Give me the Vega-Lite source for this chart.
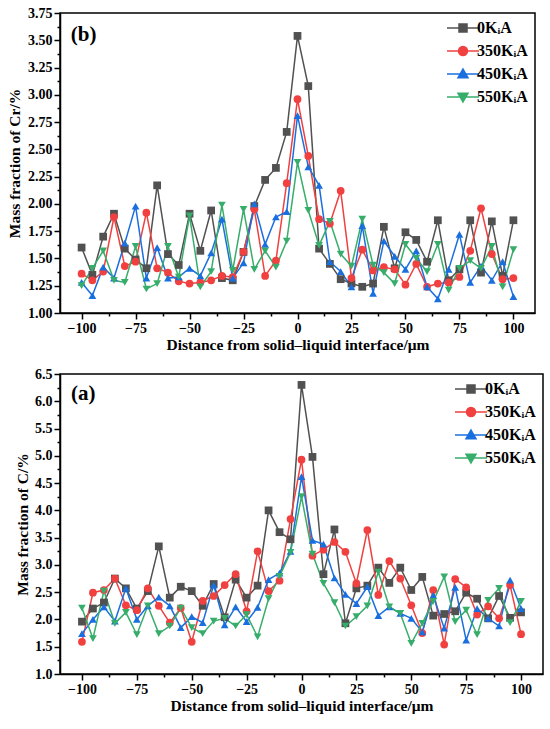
{
  "$schema": "https://vega.github.io/schema/vega-lite/v6.json",
  "description": "Mass fraction of Cr and C versus distance from the solid-liquid interface",
  "background": "white",
  "padding": {"left": 6, "top": 5, "right": 5, "bottom": 5},
  "spacing": 12,
  "align": "none",
  "config": {
    "font": "Liberation Serif",
    "view": {"stroke": "black", "strokeWidth": 1.5},
    "axis": {
      "grid": false,
      "domainColor": "black",
      "domainWidth": 1.5,
      "tickColor": "black",
      "tickWidth": 1.5,
      "labelFont": "Liberation Serif",
      "labelFontSize": 14,
      "labelFontWeight": "bold",
      "labelColor": "black",
      "labelPadding": 2,
      "titleFont": "Liberation Serif",
      "titleFontSize": 15.5,
      "titleFontWeight": "bold",
      "titleColor": "black"
    },
    "legend": {
      "orient": "top-right",
      "offset": 7,
      "padding": 0,
      "labelFont": "Liberation Serif",
      "labelFontSize": 16,
      "labelFontWeight": "bold",
      "labelColor": "black",
      "symbolSize": 100,
      "symbolStrokeWidth": 1.5,
      "symbolOffset": 14,
      "labelOffset": 6,
      "rowPadding": 7
    }
  },
  "datasets": {
    "cr": [
      {"x": -100, "0KᵢA": 1.60, "350KᵢA": 1.36, "450KᵢA": 1.28, "550KᵢA": 1.25},
      {"x": -95, "0KᵢA": 1.35, "350KᵢA": 1.30, "450KᵢA": 1.16, "550KᵢA": 1.41},
      {"x": -90, "0KᵢA": 1.70, "350KᵢA": 1.38, "450KᵢA": 1.42, "550KᵢA": 1.57},
      {"x": -85, "0KᵢA": 1.91, "350KᵢA": 1.88, "450KᵢA": 1.32, "550KᵢA": 1.30},
      {"x": -80, "0KᵢA": 1.59, "350KᵢA": 1.43, "450KᵢA": 1.64, "550KᵢA": 1.28},
      {"x": -75, "0KᵢA": 1.49, "350KᵢA": 1.47, "450KᵢA": 1.98, "550KᵢA": 1.61},
      {"x": -70, "0KᵢA": 1.41, "350KᵢA": 1.92, "450KᵢA": 1.32, "550KᵢA": 1.22},
      {"x": -65, "0KᵢA": 2.17, "350KᵢA": 1.41, "450KᵢA": 1.60, "550KᵢA": 1.27},
      {"x": -60, "0KᵢA": 1.54, "350KᵢA": 1.37, "450KᵢA": 1.32, "550KᵢA": 1.61},
      {"x": -55, "0KᵢA": 1.44, "350KᵢA": 1.29, "450KᵢA": 1.33, "550KᵢA": 1.33},
      {"x": -50, "0KᵢA": 1.91, "350KᵢA": 1.27, "450KᵢA": 1.41, "550KᵢA": 1.89},
      {"x": -45, "0KᵢA": 1.57, "350KᵢA": 1.28, "450KᵢA": 1.34, "550KᵢA": 1.24},
      {"x": -40, "0KᵢA": 1.94, "350KᵢA": 1.30, "450KᵢA": 1.55, "550KᵢA": 1.38},
      {"x": -35, "0KᵢA": 1.32, "350KᵢA": 1.34, "450KᵢA": 1.86, "550KᵢA": 1.99},
      {"x": -30, "0KᵢA": 1.30, "350KᵢA": 1.33, "450KᵢA": 1.32, "550KᵢA": 1.39},
      {"x": -25, "0KᵢA": 1.56, "350KᵢA": 1.56, "450KᵢA": 1.46, "550KᵢA": 1.95},
      {"x": -20, "0KᵢA": 1.98, "350KᵢA": 1.95, "450KᵢA": 2.00, "550KᵢA": 1.40},
      {"x": -15, "0KᵢA": 2.22, "350KᵢA": 1.34, "450KᵢA": 1.63, "550KᵢA": 1.57},
      {"x": -10, "0KᵢA": 2.33, "350KᵢA": 1.48, "450KᵢA": 1.88, "550KᵢA": 1.42},
      {"x": -5, "0KᵢA": 2.66, "350KᵢA": 2.19, "450KᵢA": 1.93, "550KᵢA": 1.66},
      {"x": 0, "0KᵢA": 3.54, "350KᵢA": 2.96, "450KᵢA": 2.81, "550KᵢA": 2.38},
      {"x": 5, "0KᵢA": 3.08, "350KᵢA": 2.44, "450KᵢA": 2.34, "550KᵢA": 1.94},
      {"x": 10, "0KᵢA": 1.59, "350KᵢA": 1.86, "450KᵢA": 2.17, "550KᵢA": 1.62},
      {"x": 15, "0KᵢA": 1.45, "350KᵢA": 1.82, "450KᵢA": 1.47, "550KᵢA": 1.84},
      {"x": 20, "0KᵢA": 1.31, "350KᵢA": 2.12, "450KᵢA": 1.38, "550KᵢA": 1.54},
      {"x": 25, "0KᵢA": 1.27, "350KᵢA": 1.32, "450KᵢA": 1.24, "550KᵢA": 1.43},
      {"x": 30, "0KᵢA": 1.24, "350KᵢA": 1.58, "450KᵢA": 1.80, "550KᵢA": 1.86},
      {"x": 35, "0KᵢA": 1.27, "350KᵢA": 1.39, "450KᵢA": 1.18, "550KᵢA": 1.44},
      {"x": 40, "0KᵢA": 1.79, "350KᵢA": 1.42, "450KᵢA": 1.66, "550KᵢA": 1.37},
      {"x": 45, "0KᵢA": 1.41, "350KᵢA": 1.40, "450KᵢA": 1.52, "550KᵢA": 1.27},
      {"x": 50, "0KᵢA": 1.74, "350KᵢA": 1.26, "450KᵢA": 1.40, "550KᵢA": 1.63},
      {"x": 55, "0KᵢA": 1.67, "350KᵢA": 1.45, "450KᵢA": 1.57, "550KᵢA": 1.50},
      {"x": 60, "0KᵢA": 1.47, "350KᵢA": 1.24, "450KᵢA": 1.24, "550KᵢA": 1.38},
      {"x": 65, "0KᵢA": 1.85, "350KᵢA": 1.27, "450KᵢA": 1.13, "550KᵢA": 1.63},
      {"x": 70, "0KᵢA": 1.30, "350KᵢA": 1.28, "450KᵢA": 1.40, "550KᵢA": 1.21},
      {"x": 75, "0KᵢA": 1.40, "350KᵢA": 1.33, "450KᵢA": 1.72, "550KᵢA": 1.41},
      {"x": 80, "0KᵢA": 1.85, "350KᵢA": 1.57, "450KᵢA": 1.28, "550KᵢA": 1.48},
      {"x": 85, "0KᵢA": 1.37, "350KᵢA": 1.96, "450KᵢA": 1.43, "550KᵢA": 1.41},
      {"x": 90, "0KᵢA": 1.84, "350KᵢA": 1.54, "450KᵢA": 1.30, "550KᵢA": 1.61},
      {"x": 95, "0KᵢA": 1.34, "350KᵢA": 1.31, "450KᵢA": 1.47, "550KᵢA": 1.24},
      {"x": 100, "0KᵢA": 1.85, "350KᵢA": 1.32, "450KᵢA": 1.15, "550KᵢA": 1.58}
    ],
    "c": [
      {"x": -100, "0KᵢA": 1.96, "350KᵢA": 1.59, "450KᵢA": 1.74, "550KᵢA": 2.21},
      {"x": -95, "0KᵢA": 2.20, "350KᵢA": 2.49, "450KᵢA": 2.00, "550KᵢA": 1.65},
      {"x": -90, "0KᵢA": 2.31, "350KᵢA": 2.54, "450KᵢA": 2.23, "550KᵢA": 2.52},
      {"x": -85, "0KᵢA": 2.75, "350KᵢA": 2.75, "450KᵢA": 1.97, "550KᵢA": 1.93},
      {"x": -80, "0KᵢA": 2.57, "350KᵢA": 2.26, "450KᵢA": 2.57, "550KᵢA": 2.13},
      {"x": -75, "0KᵢA": 2.20, "350KᵢA": 2.17, "450KᵢA": 2.00, "550KᵢA": 1.72},
      {"x": -70, "0KᵢA": 2.52, "350KᵢA": 2.57, "450KᵢA": 2.25, "550KᵢA": 2.25},
      {"x": -65, "0KᵢA": 3.34, "350KᵢA": 2.25, "450KᵢA": 2.41, "550KᵢA": 1.74},
      {"x": -60, "0KᵢA": 2.40, "350KᵢA": 1.94, "450KᵢA": 2.25, "550KᵢA": 1.88},
      {"x": -55, "0KᵢA": 2.60, "350KᵢA": 2.21, "450KᵢA": 1.85, "550KᵢA": 2.21},
      {"x": -50, "0KᵢA": 2.52, "350KᵢA": 1.59, "450KᵢA": 2.05, "550KᵢA": 1.85},
      {"x": -45, "0KᵢA": 2.25, "350KᵢA": 2.34, "450KᵢA": 1.94, "550KᵢA": 1.74},
      {"x": -40, "0KᵢA": 2.65, "350KᵢA": 2.43, "450KᵢA": 2.63, "550KᵢA": 1.97},
      {"x": -35, "0KᵢA": 2.04, "350KᵢA": 2.63, "450KᵢA": 1.90, "550KᵢA": 2.02},
      {"x": -30, "0KᵢA": 2.73, "350KᵢA": 2.83, "450KᵢA": 2.23, "550KᵢA": 1.88},
      {"x": -25, "0KᵢA": 2.40, "350KᵢA": 2.15, "450KᵢA": 1.96, "550KᵢA": 2.09},
      {"x": -20, "0KᵢA": 2.62, "350KᵢA": 3.25, "450KᵢA": 2.22, "550KᵢA": 1.68},
      {"x": -15, "0KᵢA": 4.00, "350KᵢA": 2.52, "450KᵢA": 2.73, "550KᵢA": 2.38},
      {"x": -10, "0KᵢA": 3.60, "350KᵢA": 2.71, "450KᵢA": 2.85, "550KᵢA": 2.79},
      {"x": -5, "0KᵢA": 3.47, "350KᵢA": 3.84, "450KᵢA": 3.25, "550KᵢA": 3.23},
      {"x": 0, "0KᵢA": 6.30, "350KᵢA": 4.93, "450KᵢA": 4.62, "550KᵢA": 4.25},
      {"x": 5, "0KᵢA": 4.98, "350KᵢA": 3.17, "450KᵢA": 3.45, "550KᵢA": 3.20},
      {"x": 10, "0KᵢA": 2.83, "350KᵢA": 3.28, "450KᵢA": 3.38, "550KᵢA": 2.66},
      {"x": 15, "0KᵢA": 3.65, "350KᵢA": 3.42, "450KᵢA": 2.76, "550KᵢA": 2.31},
      {"x": 20, "0KᵢA": 1.93, "350KᵢA": 3.24, "450KᵢA": 2.46, "550KᵢA": 1.88},
      {"x": 25, "0KᵢA": 2.57, "350KᵢA": 2.66, "450KᵢA": 2.29, "550KᵢA": 2.05},
      {"x": 30, "0KᵢA": 2.62, "350KᵢA": 3.64, "450KᵢA": 2.60, "550KᵢA": 2.25},
      {"x": 35, "0KᵢA": 2.95, "350KᵢA": 2.45, "450KᵢA": 2.07, "550KᵢA": 2.87},
      {"x": 40, "0KᵢA": 2.67, "350KᵢA": 3.07, "450KᵢA": 2.23, "550KᵢA": 2.23},
      {"x": 45, "0KᵢA": 2.95, "350KᵢA": 2.75, "450KᵢA": 2.11, "550KᵢA": 2.11},
      {"x": 50, "0KᵢA": 2.54, "350KᵢA": 2.26, "450KᵢA": 2.02, "550KᵢA": 1.56},
      {"x": 55, "0KᵢA": 2.78, "350KᵢA": 1.75, "450KᵢA": 1.77, "550KᵢA": 1.93},
      {"x": 60, "0KᵢA": 2.07, "350KᵢA": 2.54, "450KᵢA": 2.44, "550KᵢA": 2.33},
      {"x": 65, "0KᵢA": 2.10, "350KᵢA": 1.54, "450KᵢA": 1.84, "550KᵢA": 2.78},
      {"x": 70, "0KᵢA": 2.15, "350KᵢA": 2.74, "450KᵢA": 2.59, "550KᵢA": 1.96},
      {"x": 75, "0KᵢA": 2.49, "350KᵢA": 2.59, "450KᵢA": 1.62, "550KᵢA": 2.17},
      {"x": 80, "0KᵢA": 2.38, "350KᵢA": 2.09, "450KᵢA": 2.20, "550KᵢA": 1.72},
      {"x": 85, "0KᵢA": 2.02, "350KᵢA": 2.24, "450KᵢA": 2.02, "550KᵢA": 2.35},
      {"x": 90, "0KᵢA": 2.43, "350KᵢA": 2.02, "450KᵢA": 1.88, "550KᵢA": 2.57},
      {"x": 95, "0KᵢA": 2.03, "350KᵢA": 2.63, "450KᵢA": 2.72, "550KᵢA": 1.94},
      {"x": 100, "0KᵢA": 2.13, "350KᵢA": 1.73, "450KᵢA": 2.20, "550KᵢA": 2.33}
    ]
  },
  "vconcat": [
    {
      "width": 475,
      "height": 300,
      "data": {"name": "cr"},
      "transform": [{"fold": ["0KᵢA", "350KᵢA", "450KᵢA", "550KᵢA"], "as": ["series", "value"]}],
      "encoding": {
        "x": {
          "field": "x", "type": "quantitative",
          "scale": {"domain": [-110, 110], "nice": false, "zero": false},
          "axis": {
            "title": "Distance from solid–liquid interface/μm",
            "titlePadding": 2,
            "values": [-100, -87.5, -75, -62.5, -50, -37.5, -25, -12.5, 0, 12.5, 25, 37.5, 50, 62.5, 75, 87.5, 100],
            "labelExpr": "datum.value % 25 === 0 ? datum.label : ''",
            "tickSize": {"condition": {"test": "datum.value % 25 === 0", "value": 6}, "value": 3}
          }
        },
        "y": {
          "field": "value", "type": "quantitative",
          "scale": {"domain": [1, 3.75], "nice": false, "zero": false},
          "axis": {
            "title": "Mass fraction of Cr/%",
            "titlePadding": 5,
            "format": ".2f",
            "values": [1, 1.125, 1.25, 1.375, 1.5, 1.625, 1.75, 1.875, 2, 2.125, 2.25, 2.375, 2.5, 2.625, 2.75, 2.875, 3, 3.125, 3.25, 3.375, 3.5, 3.625, 3.75],
            "labelExpr": "datum.value % 0.25 === 0 ? datum.label : ''",
            "tickSize": {"condition": {"test": "datum.value % 0.25 === 0", "value": 6}, "value": 3}
          }
        }
      },
      "layer": [
        {
          "mark": {"type": "line", "strokeWidth": 1.5},
          "encoding": {
            "color": {"field": "series", "type": "nominal", "legend": null,
              "scale": {"domain": ["0KᵢA", "350KᵢA", "450KᵢA", "550KᵢA"], "range": ["#515151", "#F14040", "#1A6FDF", "#37AD6B"]}}
          }
        },
        {
          "mark": {"type": "point", "filled": true, "opacity": 1, "size": 60},
          "encoding": {
            "color": {"field": "series", "type": "nominal", "legend": null,
              "scale": {"domain": ["0KᵢA", "350KᵢA", "450KᵢA", "550KᵢA"], "range": ["#515151", "#F14040", "#1A6FDF", "#37AD6B"]}},
            "shape": {"field": "series", "type": "nominal", "legend": null,
              "scale": {"domain": ["0KᵢA", "350KᵢA", "450KᵢA", "550KᵢA"], "range": ["square", "circle", "triangle-up", "triangle-down"]}}
          }
        },
        {
          "data": {"values": []},
          "mark": {"type": "point", "filled": true, "opacity": 1, "strokeWidth": 1.5},
          "encoding": {
            "color": {"field": "series", "type": "nominal", "legend": {"title": null},
              "scale": {"domain": ["0KᵢA", "350KᵢA", "450KᵢA", "550KᵢA"], "range": ["#515151", "#F14040", "#1A6FDF", "#37AD6B"]}},
            "stroke": {"field": "series", "type": "nominal", "legend": {"title": null},
              "scale": {"domain": ["0KᵢA", "350KᵢA", "450KᵢA", "550KᵢA"], "range": ["#515151", "#F14040", "#1A6FDF", "#37AD6B"]}},
            "shape": {"field": "series", "type": "nominal", "legend": {"title": null},
              "scale": {"domain": ["0KᵢA", "350KᵢA", "450KᵢA", "550KᵢA"], "range": [
                "M-3.2,0H3.2M-0.8,-0.8H0.8V0.8H-0.8Z",
                "M-3.2,0H3.2M-0.9,0A0.9,0.9,0,1,0,0.9,0A0.9,0.9,0,1,0,-0.9,0Z",
                "M-3.2,0H3.2M0,-1L1,0.75H-1Z",
                "M-3.2,0H3.2M0,1L1,-0.75H-1Z"
              ]}}
          }
        },
        {
          "transform": [{"filter": "datum.x === -100 && datum.series === '0KᵢA'"}],
          "mark": {"type": "text", "text": "(b)", "font": "Liberation Serif", "fontSize": 21, "fontWeight": "bold", "align": "left", "baseline": "middle", "color": "black"},
          "encoding": {"x": {"datum": -105}, "y": {"datum": 3.55}, "color": {"value": "black"}}
        }
      ],
      "resolve": {"scale": {"color": "independent", "shape": "independent", "stroke": "independent"}}
    },
    {
      "width": 483,
      "height": 300,
      "data": {"name": "c"},
      "transform": [{"fold": ["0KᵢA", "350KᵢA", "450KᵢA", "550KᵢA"], "as": ["series", "value"]}],
      "encoding": {
        "x": {
          "field": "x", "type": "quantitative",
          "scale": {"domain": [-110, 110], "nice": false, "zero": false},
          "axis": {
            "title": "Distance from solid–liquid interface/μm",
            "titlePadding": 2,
            "values": [-100, -87.5, -75, -62.5, -50, -37.5, -25, -12.5, 0, 12.5, 25, 37.5, 50, 62.5, 75, 87.5, 100],
            "labelExpr": "datum.value % 25 === 0 ? datum.label : ''",
            "tickSize": {"condition": {"test": "datum.value % 25 === 0", "value": 6}, "value": 3}
          }
        },
        "y": {
          "field": "value", "type": "quantitative",
          "scale": {"domain": [1, 6.5], "nice": false, "zero": false},
          "axis": {
            "title": "Mass fraction of C/%",
            "titlePadding": 4,
            "format": ".1f",
            "values": [1, 1.25, 1.5, 1.75, 2, 2.25, 2.5, 2.75, 3, 3.25, 3.5, 3.75, 4, 4.25, 4.5, 4.75, 5, 5.25, 5.5, 5.75, 6, 6.25, 6.5],
            "labelExpr": "datum.value % 0.5 === 0 ? datum.label : ''",
            "tickSize": {"condition": {"test": "datum.value % 0.5 === 0", "value": 6}, "value": 3}
          }
        }
      },
      "layer": [
        {
          "mark": {"type": "line", "strokeWidth": 1.5},
          "encoding": {
            "color": {"field": "series", "type": "nominal", "legend": null,
              "scale": {"domain": ["0KᵢA", "350KᵢA", "450KᵢA", "550KᵢA"], "range": ["#515151", "#F14040", "#1A6FDF", "#37AD6B"]}}
          }
        },
        {
          "mark": {"type": "point", "filled": true, "opacity": 1, "size": 60},
          "encoding": {
            "color": {"field": "series", "type": "nominal", "legend": null,
              "scale": {"domain": ["0KᵢA", "350KᵢA", "450KᵢA", "550KᵢA"], "range": ["#515151", "#F14040", "#1A6FDF", "#37AD6B"]}},
            "shape": {"field": "series", "type": "nominal", "legend": null,
              "scale": {"domain": ["0KᵢA", "350KᵢA", "450KᵢA", "550KᵢA"], "range": ["square", "circle", "triangle-up", "triangle-down"]}}
          }
        },
        {
          "data": {"values": []},
          "mark": {"type": "point", "filled": true, "opacity": 1, "strokeWidth": 1.5},
          "encoding": {
            "color": {"field": "series", "type": "nominal", "legend": {"title": null},
              "scale": {"domain": ["0KᵢA", "350KᵢA", "450KᵢA", "550KᵢA"], "range": ["#515151", "#F14040", "#1A6FDF", "#37AD6B"]}},
            "stroke": {"field": "series", "type": "nominal", "legend": {"title": null},
              "scale": {"domain": ["0KᵢA", "350KᵢA", "450KᵢA", "550KᵢA"], "range": ["#515151", "#F14040", "#1A6FDF", "#37AD6B"]}},
            "shape": {"field": "series", "type": "nominal", "legend": {"title": null},
              "scale": {"domain": ["0KᵢA", "350KᵢA", "450KᵢA", "550KᵢA"], "range": [
                "M-3.2,0H3.2M-0.8,-0.8H0.8V0.8H-0.8Z",
                "M-3.2,0H3.2M-0.9,0A0.9,0.9,0,1,0,0.9,0A0.9,0.9,0,1,0,-0.9,0Z",
                "M-3.2,0H3.2M0,-1L1,0.75H-1Z",
                "M-3.2,0H3.2M0,1L1,-0.75H-1Z"
              ]}}
          }
        },
        {
          "transform": [{"filter": "datum.x === -100 && datum.series === '0KᵢA'"}],
          "mark": {"type": "text", "text": "(a)", "font": "Liberation Serif", "fontSize": 21, "fontWeight": "bold", "align": "left", "baseline": "middle", "color": "black"},
          "encoding": {"x": {"datum": -105}, "y": {"datum": 6.14}, "color": {"value": "black"}}
        }
      ],
      "resolve": {"scale": {"color": "independent", "shape": "independent", "stroke": "independent"}}
    }
  ],
  "resolve": {"scale": {"color": "independent", "shape": "independent", "stroke": "independent"}}
}
